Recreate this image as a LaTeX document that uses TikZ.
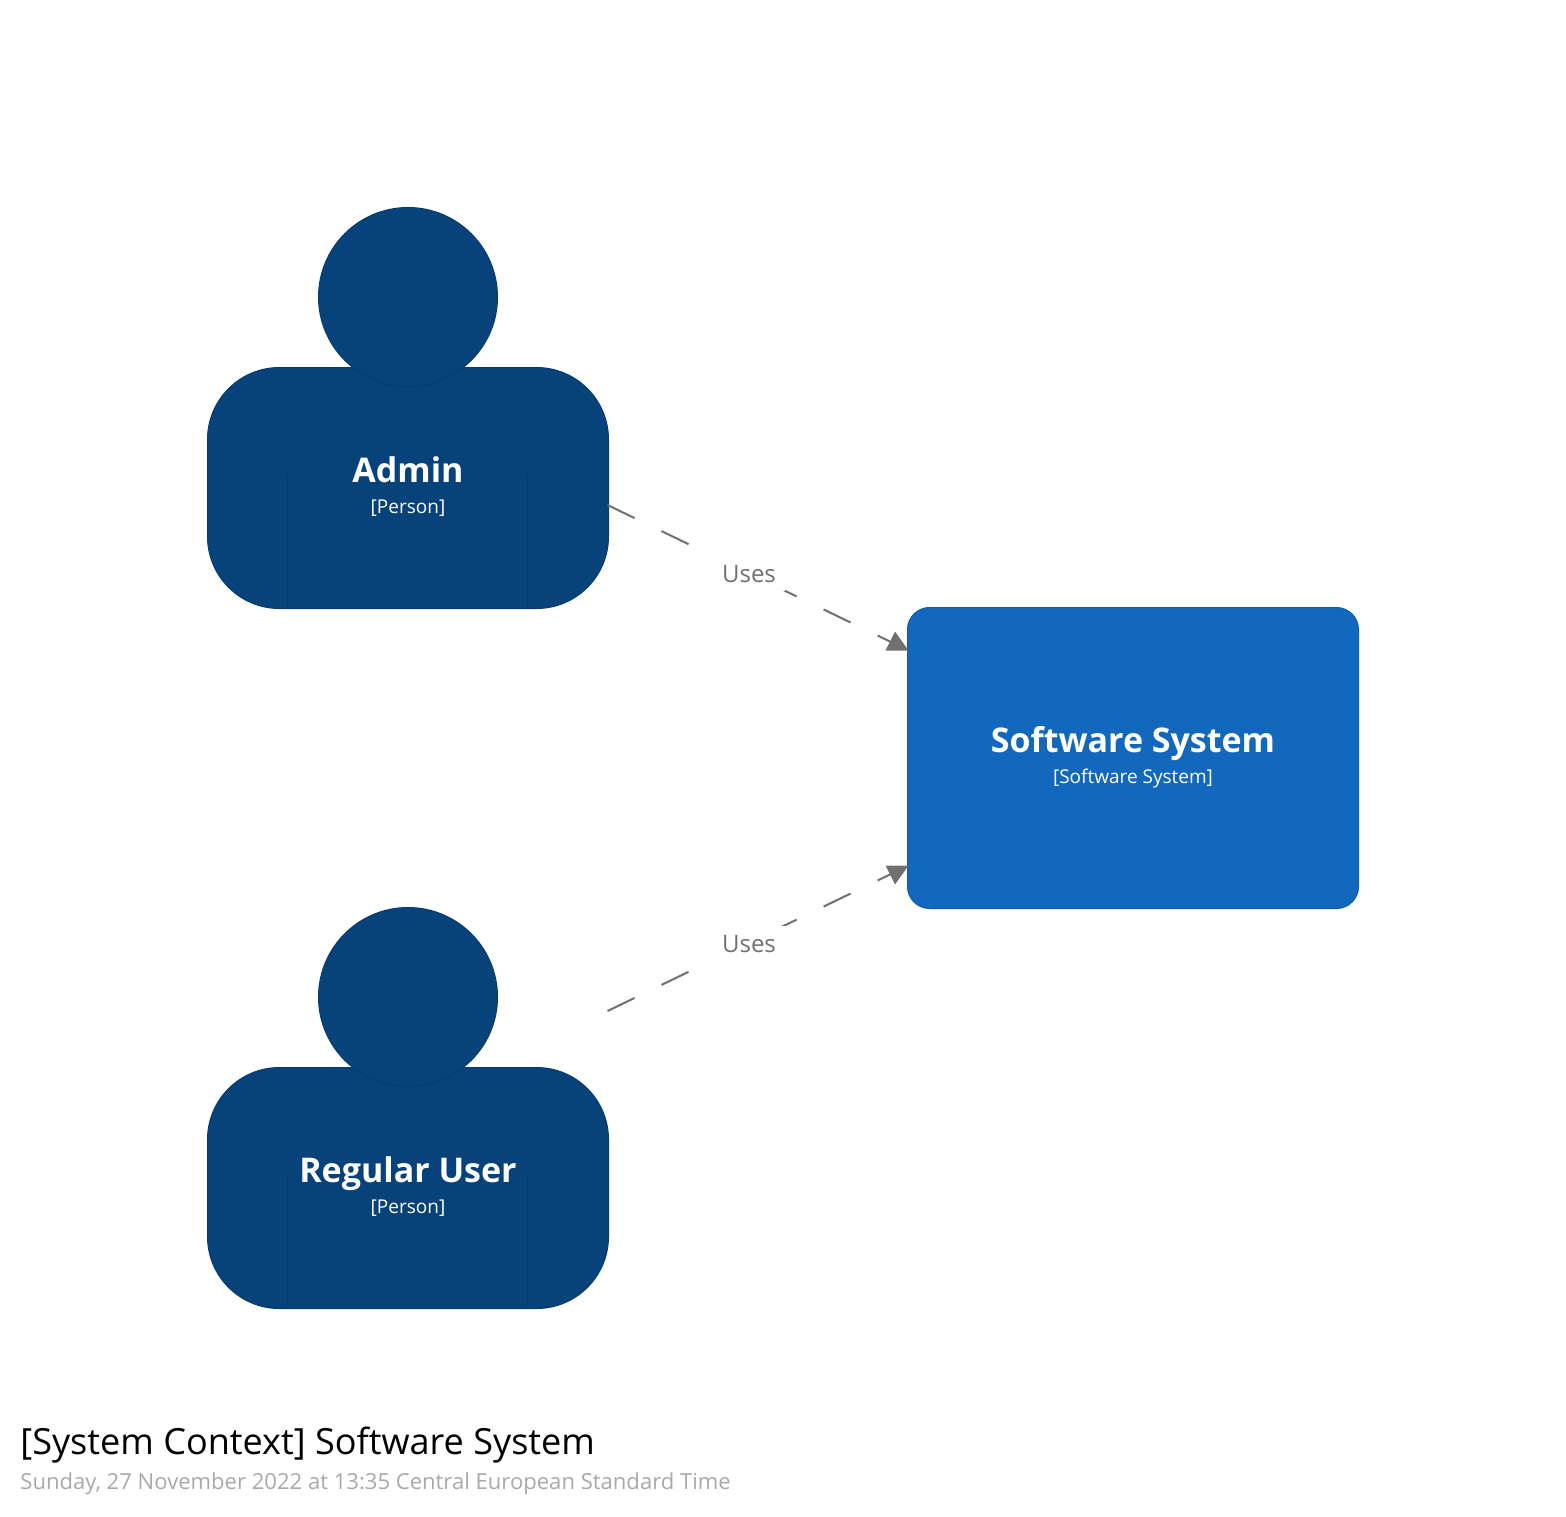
\documentclass[tikz,border=0pt]{standalone}
\usepackage{fontspec}
\setmainfont{Open Sans}
\definecolor{personfill}{HTML}{08427B}
\definecolor{personline}{HTML}{073B6F}
\definecolor{sysfill}{HTML}{1168BD}
\definecolor{sysline}{HTML}{0F5EAA}
\definecolor{edgegrey}{HTML}{707070}
\definecolor{dategrey}{HTML}{A9A9A9}
\tikzset{
  x=0.5pt,y=-0.5pt,
  persontorso/.style={draw=personline,fill=personfill,line width=0.5pt,rounded corners=36pt,minimum width=200.5pt,minimum height=120.5pt,inner sep=0pt,outer sep=0pt},
  personhead/.style={circle,draw=personline,fill=personfill,line width=0.5pt,minimum size=89.5pt,inner sep=0pt,outer sep=0pt},
  armline/.style={draw=personline,line width=0.5pt},
  sysbox/.style={draw=sysline,fill=sysfill,line width=0.5pt,rounded corners=11pt,minimum width=225.5pt,minimum height=150.5pt,inner sep=0pt,outer sep=0pt},
  nametext/.style={anchor=base,text=white,font=\fontsize{17}{20}\selectfont\bfseries,inner sep=0pt},
  typetext/.style={anchor=base,text=white,font=\fontsize{9.5}{12}\selectfont,inner sep=0pt},
  uses/.style={draw=edgegrey,line width=1pt,dash pattern=on 15pt off 15pt},
  tiphead/.style={fill=edgegrey},
  useslabel/.style={anchor=base,fill=white,text=edgegrey,font=\fontsize{12}{14}\selectfont,inner xsep=4.5pt,inner ysep=4.5pt},
}
\begin{document}
\begin{tikzpicture}
\useasboundingbox (0,0) rectangle (1566,1516);
% Admin
\node[persontorso] (admintorso) at (408,488) {};
\node[personhead] (adminhead) at (408,297) {};
\draw[armline] (287.5,475) -- (287.5,608);
\draw[armline] (527.5,475) -- (527.5,608);
\node[nametext] (adminname) at (408,482) {Admin};
\node[typetext] (admintype) at (408,513) {[Person]};
% Regular User
\node[persontorso] (usertorso) at (408,1188) {};
\node[personhead] (userhead) at (408,997) {};
\draw[armline] (287.5,1175) -- (287.5,1308);
\draw[armline] (527.5,1175) -- (527.5,1308);
\node[nametext] (username) at (408,1182) {Regular User};
\node[typetext] (usertype) at (408,1213) {[Person]};
% Software System
\node[sysbox] (system) at (1133,758) {};
\node[nametext] (sysname) at (1133,752) {Software System};
\node[typetext] (systype) at (1133,783) {[Software System]};
% Connectors
\coordinate (adminout) at ([xshift=-0.5pt,yshift=-8.5pt]admintorso.east);
\coordinate (userout) at ([xshift=-0.5pt,yshift=88.5pt]usertorso.east);
\coordinate (sysinA) at ([yshift=54pt]system.west);
\coordinate (sysinB) at ([yshift=-54pt]system.west);
\draw[uses] (adminout) -- (sysinA);
\draw[uses] (userout) -- (sysinB);
\fill[tiphead] (sysinA) ++(1,0.5) -- ++(-13.5,-19) -- ++(-9.5,19) -- cycle;
\fill[tiphead] (sysinB) ++(1,-0.5) -- ++(-13.5,19) -- ++(-9.5,-19) -- cycle;
\node[useslabel] (usesA) at (749,582) {Uses};
\node[useslabel] (usesB) at (749,952) {Uses};
% Title
\node[anchor=base west,inner sep=0pt,font=\fontsize{18.03}{20}\selectfont] (title) at (20,1454) {[System Context] Software System};
\node[anchor=base west,inner sep=0pt,text=dategrey,font=\fontsize{11.03}{13}\selectfont] (date) at (20,1489) {Sunday, 27 November 2022 at 13:35 Central European Standard Time};
\end{tikzpicture}
\end{document}
